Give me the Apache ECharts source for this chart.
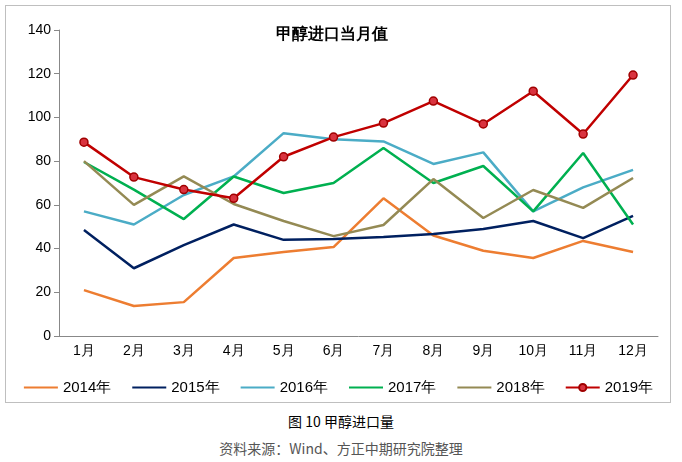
<!DOCTYPE html>
<html><head><meta charset="utf-8">
<script src="https://cdn.jsdelivr.net/npm/echarts@6/dist/echarts.min.js"></script>
<style>
body{margin:0;background:#fff;font-family:"Noto Sans CJK SC",sans-serif;}
#box{position:absolute;left:5px;top:5px;width:664px;height:396px;border:1px solid #bfbfbf;}
#chart{width:664px;height:396px;}
.cap{position:absolute;width:682px;text-align:center;font-size:14px;}
</style></head><body>
<div id="box"><div id="chart"></div></div>
<div class="cap" style="top:411px;color:#000;">图 10 甲醇进口量</div>
<div class="cap" style="top:438px;color:#555;">资料来源：Wind、方正中期研究院整理</div>
<script>
const months = ['1月','2月','3月','4月','5月','6月','7月','8月','9月','10月','11月','12月'];
const y2014 = [21, 13.7, 15.5, 35.7, 38.4, 40.7, 63, 46, 39, 35.7, 43.5, 38.4];
const y2015 = [48.5, 31, 41.6, 51, 44, 44.4, 45.3, 46.7, 49, 52.6, 44.8, 55];
const y2016 = [57, 51, 64.5, 73, 92.8, 90, 89, 78.7, 84, 57, 68, 76];
const y2017 = [79.6, 67, 53.5, 73, 65.4, 70, 86, 70, 77.8, 57, 83.7, 51];
const y2018 = [80, 60, 73, 60.4, 52.6, 45.7, 50.8, 71.8, 54, 66.8, 58.6, 72.3];
const y2019 = [88.7, 72.7, 67, 63, 82, 91, 97.4, 107.5, 97, 112, 92.4, 119.4];
const names = ['2014年','2015年','2016年','2017年','2018年','2019年'];

const chart = echarts.init(document.getElementById('chart'));
function line(name, data, color) {
  return { name, type: 'line', data, symbol: 'none', lineStyle: { color, width: 2.5 }, itemStyle: { color } };
}
const s19 = line('2019年', y2019, '#c00000');
s19.symbol = 'circle'; s19.symbolSize = 8;
s19.itemStyle = { color: '#d9333f', borderColor: '#a00000', borderWidth: 1.5 };
chart.setOption({
  animation: false,
  title: { text: '甲醇进口当月值', left: 265, top: 16, textStyle: { fontSize: 16, fontWeight: 'bold', color: '#000' } },
  grid: { left: 53, right: 12, top: 24, bottom: 66 },
  legend: {
    bottom: 2, left: 'center', itemWidth: 34, itemHeight: 9, itemGap: 20,
    textStyle: { fontSize: 15, color: '#000' },
    data: names.map(n => n === '2019年' ? { name: n } : { name: n, itemStyle: { opacity: 0 } })
  },
  xAxis: {
    type: 'category', data: months,
    axisLine: { lineStyle: { color: '#888' } },
    axisTick: { lineStyle: { color: '#888' } },
    axisLabel: { color: '#000', fontSize: 14 }
  },
  yAxis: {
    type: 'value', min: 0, max: 140, interval: 20,
    axisLine: { show: true, lineStyle: { color: '#888' } },
    axisTick: { show: true, lineStyle: { color: '#888' } },
    splitLine: { show: false },
    axisLabel: { color: '#000', fontSize: 14 }
  },
  series: [
    line('2014年', y2014, '#ed7d31'),
    line('2015年', y2015, '#002060'),
    line('2016年', y2016, '#4bacc6'),
    line('2017年', y2017, '#00b050'),
    line('2018年', y2018, '#948a54'),
    s19
  ]
});
</script>
</body></html>
